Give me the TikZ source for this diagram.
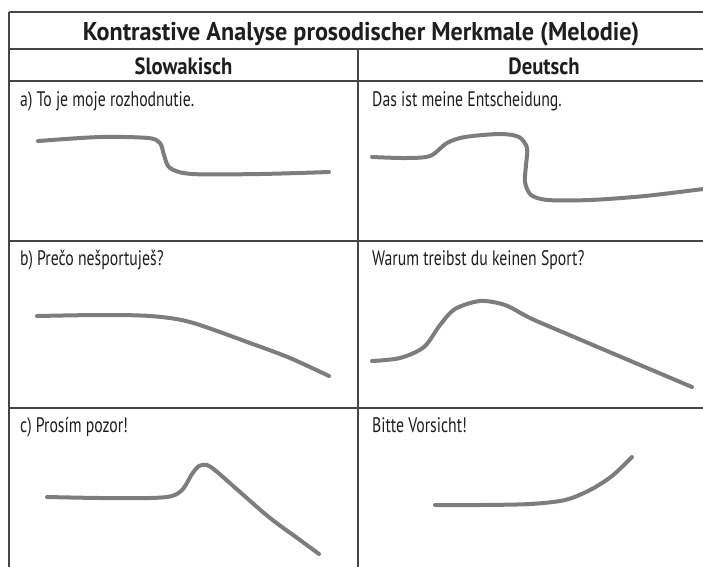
\documentclass[tikz,border=0pt]{standalone}
\usepackage{fontspec}
\setmainfont{PT Sans}[FakeStretch=0.75]
\newfontfamily\titlefont{PT Sans}[FakeStretch=0.94]
\newfontfamily\headfont{PT Sans}[FakeStretch=0.88]
\definecolor{rulegray}{RGB}{70,70,72}
\definecolor{curvegray}{RGB}{125,125,128}
\definecolor{textblack}{RGB}{30,30,30}
\tikzset{
  rule/.style={draw=rulegray, line width=1.1pt},
  melody/.style={draw=curvegray, line width=4pt, line cap=round, line join=round},
  cell/.style={anchor=base west, inner sep=0pt, text=textblack, font=\fontsize{21}{23}\selectfont},
  head/.style={anchor=base, inner sep=0pt, text=textblack, font=\fontsize{23.5}{25}\headfont\bfseries}
}

\begin{document}
\begin{tikzpicture}[x=1pt, y=1pt]
    \useasboundingbox (0,0) rectangle (703,-566);
    \clip (0,0) rectangle (703,-566);
    % table rules
    \draw [rule] (9,-12) -- (718,-12);
    \draw [rule] (9,-49) -- (718,-49);
    \draw [rule] (9,-81) -- (718,-81);
    \draw [rule] (9,-241) -- (718,-241);
    \draw [rule] (9,-408) -- (718,-408);
    \draw [rule] (9,-12) -- (9,-570);
    \draw [rule] (358,-49) -- (358,-570);
    \draw [rule] (718,-12) -- (718,-570);
    % headings
    \node [head, font=\fontsize{25.7}{27}\titlefont\bfseries] (title) at (361,-40) {Kontrastive Analyse prosodischer Merkmale (Melodie)};
    \node [head] (slk) at (183.5,-74) {Slowakisch};
    \node [head] (deu) at (544,-74) {Deutsch};
    % sentences
    \node [cell] (slka) at (20,-106) {a) To je moje rozhodnutie.};
    \node [cell] (deua) at (372,-106) {Das ist meine Entscheidung.};
    \node [cell] (slkb) at (20,-265) {b) Prečo nešportuješ?};
    \node [cell] (deub) at (372,-265) {Warum treibst du keinen Sport?};
    \node [cell] (slkc) at (20,-432) {c) Prosím pozor!};
    \node [cell] (deuc) at (372,-432) {Bitte Vorsicht!};
    % melody a
    \draw [melody] plot [smooth, tension=0.5] coordinates {(38,-141) (100,-137) (148,-138) (160,-143) (164,-155) (170,-168) (192,-174) (260,-174) (329,-172)};
    \draw [melody] plot [smooth, tension=0.5] coordinates {(372,-157) (405,-158) (430,-156) (447,-143) (465,-137) (500,-134) (519,-137) (527,-148) (526,-165) (525,-182) (531,-195) (548,-200) (590,-200) (645,-196) (703,-189)};
    % melody b
    \draw [melody] plot [smooth, tension=0.5] coordinates {(37,-316) (100,-315) (150,-316) (190,-322) (250,-343) (290,-358) (329,-376)};
    \draw [melody] plot [smooth, tension=0.5] coordinates {(372,-361) (400,-358) (424,-347) (440,-325) (455,-309) (480,-301) (505,-305) (530,-318) (560,-331) (692,-387)};
    % melody c
    \draw [melody] plot [smooth, tension=0.5] coordinates {(47,-497) (100,-498) (150,-498) (172,-496) (183,-489) (192,-474) (199,-466) (207,-465) (216,-471) (240,-492) (270,-518) (300,-540) (319,-554)};
    \draw [melody] plot [smooth, tension=0.5] coordinates {(435,-505) (480,-505) (530,-504) (565,-500) (590,-490) (612,-476) (632,-457)};
\end{tikzpicture}
\end{document}
